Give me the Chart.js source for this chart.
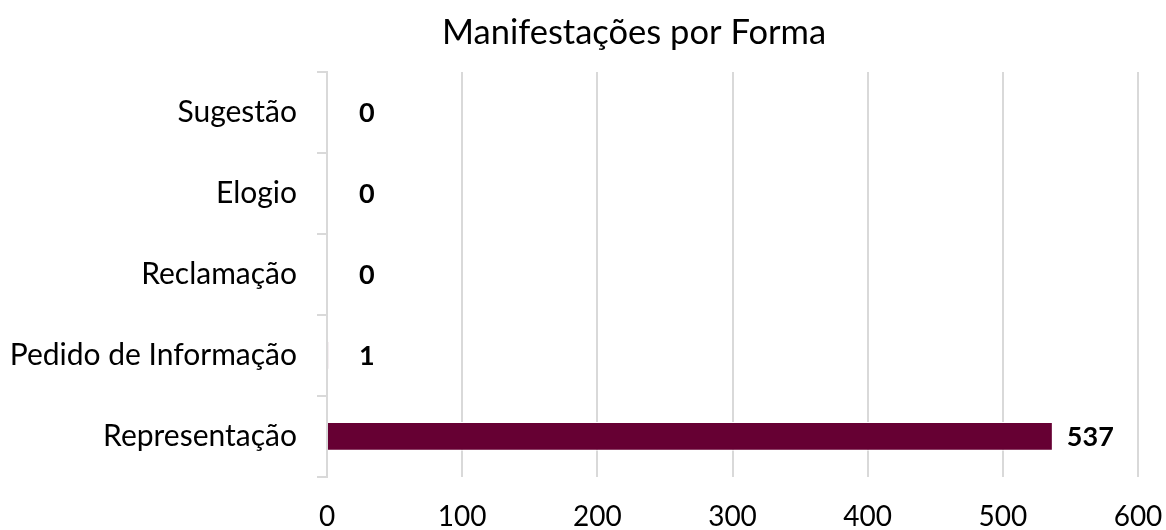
<!DOCTYPE html>
<html><head><meta charset="utf-8">
<script src="https://cdn.jsdelivr.net/npm/chart.js@4"></script>
<style>html,body{margin:0;padding:0;background:#fff}#wrap{width:1166px;height:530px}</style>
</head><body><div id="wrap"><canvas id="c"></canvas></div>
<script>
const categories = ["Sugestão", "Elogio", "Reclamação", "Pedido de Informação", "Representação"];
const values = [0, 0, 0, 1, 537];
const xTicks = [0, 100, 200, 300, 400, 500, 600];

const FONT = "Lato";
const labelPlugin = {
  id: 'valLabels',
  afterDatasetsDraw(chart) {
    const ctx = chart.ctx;
    const meta = chart.getDatasetMeta(0);
    const x0 = chart.scales.x.getPixelForValue(0);
    ctx.save();
    ctx.font = "bold 27px " + FONT;
    ctx.fillStyle = "#000";
    ctx.textBaseline = "middle";
    ctx.textAlign = "left";
    meta.data.forEach((bar, i) => {
      const x = Math.max(bar.x, x0 + 18) + 14;
      ctx.fillText(String(values[i]), x, bar.y + 1);
    });
    ctx.restore();
  }
};
// shift the title's box so it is centred like the reference
const titleShift = {
  id: 'titleShift',
  afterLayout(chart) {
    if (chart.titleBlock) chart.titleBlock.left = 102;
  }
};

new Chart(document.getElementById('c'), {
  type: 'bar',
  data: {
    labels: categories,
    datasets: [{
      data: values,
      backgroundColor: '#660033',
      borderColor: '#ffffff',
      borderWidth: 1,
      barPercentage: 0.355,
      categoryPercentage: 1.0
    }]
  },
  options: {
    indexAxis: 'y',
    responsive: true,
    maintainAspectRatio: false,
    animation: false,
    layout: { padding: { left: 0, right: 0, top: 0, bottom: 0 } },
    plugins: {
      legend: { display: false },
      tooltip: { enabled: false },
      title: {
        display: true,
        text: 'Manifestações por Forma',
        color: '#000',
        font: { family: FONT, size: 34.5, weight: 'normal' },
        padding: { top: 12, bottom: 18.5 }
      }
    },
    scales: {
      x: {
        min: 0, max: 600,
        afterBuildTicks(scale) { scale.ticks = xTicks.map(v => ({ value: v })); },
        afterFit(scale) { scale.height = 53; scale.paddingRight = 28; scale.paddingLeft = 0; },
        grid: { color: '#d9d9d9', lineWidth: 2, drawTicks: false },
        border: { display: false },
        ticks: { color: '#000', font: { family: FONT, size: 28 }, padding: 23 }
      },
      y: {
        grid: { offset: true, drawOnChartArea: false, color: '#d9d9d9', lineWidth: 2, tickLength: 10 },
        border: { display: true, color: '#d9d9d9', width: 2 },
        afterFit(scale) { scale.width = 327; scale.paddingTop = 0; scale.paddingBottom = 0; },
        ticks: { color: '#000', font: { family: FONT, size: 30 }, padding: 20 }
      }
    }
  },
  plugins: [labelPlugin, titleShift]
});
</script></body></html>
